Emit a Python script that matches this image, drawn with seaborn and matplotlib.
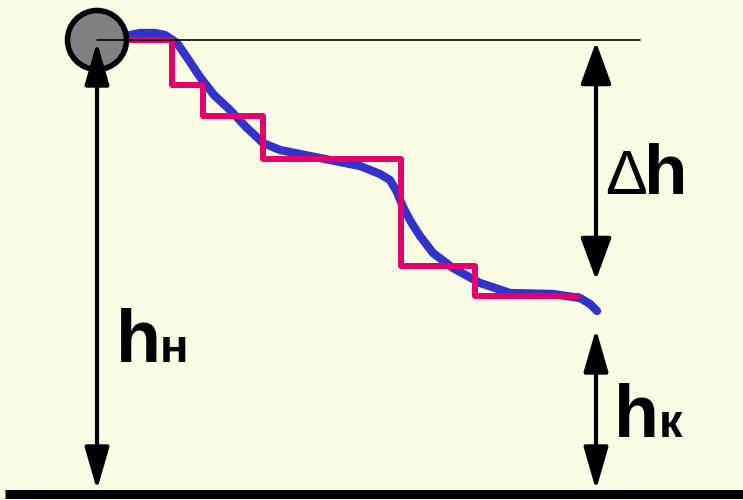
import matplotlib
matplotlib.use("Agg")
import matplotlib.pyplot as plt
import matplotlib.patches as mpatches
import seaborn as sns
import pandas as pd

# smooth descent path (pixel units, y grows downward)
path_x = [125, 140, 155, 165, 177, 188, 200, 214, 230, 246, 263, 280, 300, 330, 360,
          380, 390, 397, 403, 411, 420, 433, 453, 480, 510, 553, 580, 590, 597]
path_y = [36, 33, 33, 35, 43, 59, 77, 95, 110, 127, 143, 150, 154, 160, 166,
          174, 180, 192, 207, 222, 236, 253, 268, 283, 293, 294, 298, 304, 311]

# stepwise approximation
step_x = [125, 172, 203, 263, 401, 475, 580]
step_y = [40, 85, 116, 159, 266, 296, 296]

ball_center = (97, 40)
top_level = 40
ground_level = 492
right_x = 596
end_level = 282
end_start = 327

bg = "#FAFCE4"

sns.set_theme(style="white")
plt.rcParams["font.family"] = ["Liberation Sans", "DejaVu Sans"]

fig = plt.figure(figsize=(7.43, 5.0), dpi=100, facecolor=bg)
ax = fig.add_axes([0, 0, 1, 1])
ax.set_facecolor(bg)
ax.set_xlim(0, 743)
ax.set_ylim(500, 0)
ax.axis("off")

path = pd.DataFrame({"x": path_x, "y": path_y})
steps = pd.DataFrame({"x": step_x, "y": step_y})

sns.lineplot(data=path, x="x", y="y", sort=False, color="#3333CC", lw=6,
             solid_capstyle="round", solid_joinstyle="round", ax=ax, zorder=2)
sns.lineplot(data=steps, x="x", y="y", sort=False, drawstyle="steps-post",
             color="#E2006F", lw=4.3, solid_capstyle="butt", ax=ax, zorder=3)

ball = mpatches.Circle(ball_center, 29.5, facecolor="#808080", edgecolor="black",
                       lw=4, zorder=4)
ax.add_patch(ball)

# reference level and ground
ax.plot([ball_center[0], 640], [top_level, top_level], color="black", lw=1.2, zorder=5)
ax.plot([5, 743], [ground_level + 2, ground_level + 2], color="black", lw=6.5,
        solid_capstyle="butt", zorder=5)

def dim_arrow(x, y0, y1, hw):
    ax.annotate("", xy=(x, y1), xytext=(x, y0),
                arrowprops=dict(arrowstyle=f"<|-|>,head_length=26,head_width={hw}",
                                mutation_scale=1, lw=3, color="black",
                                shrinkA=0, shrinkB=0), zorder=6)

dim_arrow(ball_center[0], top_level + 2, ground_level - 2, 7.5)
dim_arrow(right_x, top_level + 2, end_level - 2, 9.5)
dim_arrow(right_x, end_start + 2, ground_level - 2, 7.5)

big = 53
small = 34
txt = dict(color="black", ha="left", va="baseline")
ax.text(116, 362, "h", fontsize=big, fontweight="bold", **txt)
ax.text(160, 362, "н", fontsize=small, fontweight="bold", **txt)
ax.text(605, 194, "Δ", fontsize=45, **txt)
ax.text(644, 194, "h", fontsize=51, fontweight="bold", **txt)
ax.text(614, 437, "h", fontsize=big, fontweight="bold", **txt)
ax.text(659, 437, "к", fontsize=small, fontweight="bold", **txt)

fig.savefig("out.png", dpi=100, facecolor=bg)
